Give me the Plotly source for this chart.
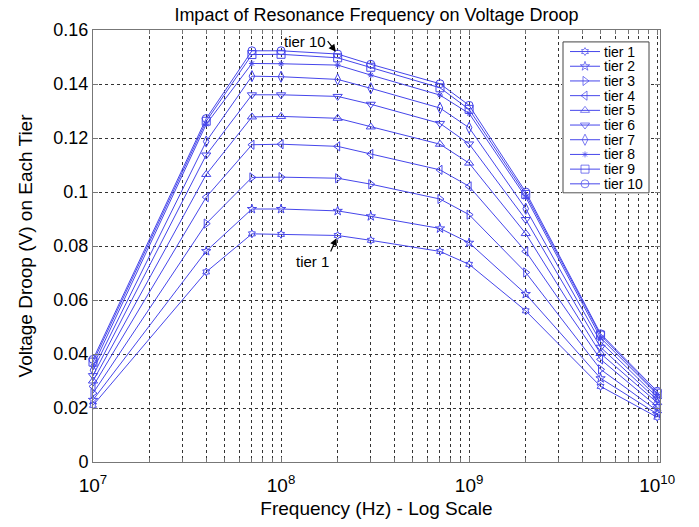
import math
import plotly.graph_objects as go

# ---- data ----
freq_hz = [1e7, 4e7, 7e7, 1e8, 2e8, 3e8, 7e8, 1e9, 2e9, 5e9, 1e10]

tier1 = [0.0210, 0.0704, 0.0845, 0.0843, 0.0839, 0.0821, 0.0780, 0.0732, 0.0560, 0.0280, 0.0166]
tier2 = [0.0230, 0.0781, 0.0937, 0.0937, 0.0930, 0.0910, 0.0865, 0.0812, 0.0622, 0.0310, 0.0178]
tier3 = [0.0255, 0.0883, 0.1054, 0.1055, 0.1051, 0.1029, 0.0974, 0.0916, 0.0702, 0.0343, 0.0190]
tier4 = [0.0280, 0.0981, 0.1175, 0.1177, 0.1169, 0.1141, 0.1082, 0.1021, 0.0780, 0.0380, 0.0205]
tier5 = [0.0300, 0.1065, 0.1278, 0.1280, 0.1273, 0.1241, 0.1177, 0.1107, 0.0846, 0.0402, 0.0220]
tier6 = [0.0320, 0.1137, 0.1360, 0.1360, 0.1354, 0.1325, 0.1254, 0.1178, 0.0898, 0.0425, 0.0230]
tier7 = [0.0340, 0.1187, 0.1429, 0.1427, 0.1417, 0.1384, 0.1311, 0.1238, 0.0938, 0.0445, 0.0240]
tier8 = [0.0355, 0.1251, 0.1476, 0.1475, 0.1470, 0.1433, 0.1359, 0.1291, 0.0981, 0.0460, 0.0250]
tier9 = [0.0370, 0.1262, 0.1509, 0.1510, 0.1497, 0.1462, 0.1386, 0.1306, 0.0991, 0.0470, 0.0255]
tier10 = [0.0380, 0.1272, 0.1523, 0.1523, 0.1511, 0.1473, 0.1401, 0.1321, 0.1000, 0.0475, 0.0262]

series = [tier1, tier2, tier3, tier4, tier5, tier6, tier7, tier8, tier9, tier10]
names = ["tier %d" % i for i in range(1, 11)]
symbols = ["hexagram-open", "star-open", "triangle-right-open", "triangle-left-open",
           "triangle-up-open", "triangle-down-open", "diamond-tall-open", "asterisk-open",
           "square-open", "circle-open"]
marker_sizes = [6, 7, 8, 8, 8, 8, 8, 5, 8, 8]

y_ticks = [0, 0.02, 0.04, 0.06, 0.08, 0.1, 0.12, 0.14, 0.16]
y_ticklabels = ["0", "0.02", "0.04", "0.06", "0.08", "0.1", "0.12", "0.14", "0.16"]

decades = [7, 8, 9, 10]

# ---- styling / layout constants ----
BLUE = "rgb(70,70,235)"
FONT = "Liberation Sans, Arial, sans-serif"
W, H = 699, 527
PL, PR, PT, PB = 93, 660, 30, 465          # plot area in pixels
PW, PH = PR - PL, PB - PT

def px_to_xpaper(px):
    return (px - PL) / PW

def px_to_ypaper(py):
    return (PB - py) / PH

fig = go.Figure()
for name, ys, sym, ms in zip(names, series, symbols, marker_sizes):
    fig.add_trace(go.Scatter(
        x=freq_hz, y=ys, name=name, mode="lines+markers", showlegend=False,
        line=dict(color=BLUE, width=1), cliponaxis=False,
        marker=dict(symbol=sym, size=ms, color=BLUE, line=dict(color=BLUE, width=1)),
        xaxis="x", yaxis="y",
    ))

# ---- MATLAB-style legend box on its own small axes ----
LG_L, LG_R, LG_T, LG_B = 563, 649, 42, 194   # box in pixels
LG_W, LG_H = LG_R - LG_L, LG_B - LG_T
ROW0, ROW_STEP = 9.7, 14.8
fig.add_trace(go.Scatter(
    x=[0, LG_W, LG_W, 0, 0], y=[0, 0, LG_H, LG_H, 0], mode="lines",
    fill="toself", fillcolor="white", line=dict(color="#444", width=1),
    showlegend=False, hoverinfo="skip", xaxis="x2", yaxis="y2",
))
for i, (name, sym, ms) in enumerate(zip(names, symbols, marker_sizes)):
    yy = LG_H - ROW0 - ROW_STEP * i
    fig.add_trace(go.Scatter(
        x=[7, 22, 37], y=[yy, yy, yy], mode="lines+markers", showlegend=False,
        line=dict(color=BLUE, width=1),
        marker=dict(symbol=sym, size=[0, ms, 0], color=BLUE, line=dict(color=BLUE, width=1)),
        hoverinfo="skip", xaxis="x2", yaxis="y2",
    ))
    fig.add_annotation(x=40, y=yy, xref="x2", yref="y2", text=name, showarrow=False,
                       xanchor="left", yanchor="middle", borderpad=0,
                       font=dict(size=14, color="black"))

x_major = [10 ** d for d in decades]
x_major_text = ["10<sup>%d</sup>" % d for d in decades]
x_minor = [m * 10 ** d for d in decades[:-1] for m in range(2, 10)]

GRID = dict(showgrid=True, gridcolor="#333", griddash="dot", gridwidth=1)

fig.update_layout(
    width=W, height=H,
    margin=dict(l=PL, r=W - PR, t=PT, b=H - PB),
    paper_bgcolor="white", plot_bgcolor="white",
    font=dict(family=FONT, size=18, color="black"),
    title=dict(text="Impact of Resonance Frequency on Voltage Droop",
               x=(PL + PR) / 2 / W, xanchor="center", y=1 - 15 / H, yanchor="middle",
               font=dict(size=18)),
    showlegend=False,
    xaxis=dict(
        type="log", range=[7, 10.015], domain=[0, 1],
        tickvals=x_major, ticktext=x_major_text,
        **GRID,
        minor=dict(tickvals=x_minor, ticks="inside", ticklen=4, tickcolor="#777",
                   showgrid=True, gridcolor="#333", griddash="dot", gridwidth=1),
        showline=True, linecolor="#777", linewidth=1, mirror="ticks",
        ticks="inside", ticklen=5, tickcolor="#777",
        zeroline=False, ticklabelstandoff=6,
        title=dict(text="Frequency (Hz) - Log Scale", font=dict(size=19), standoff=6),
        tickfont=dict(size=19),
    ),
    yaxis=dict(
        range=[0, 0.16], domain=[0, 1],
        tickvals=y_ticks, ticktext=y_ticklabels,
        **GRID,
        showline=True, linecolor="#777", linewidth=1, mirror="ticks",
        ticks="inside", ticklen=5, tickcolor="#777",
        zeroline=False,
        title=dict(text="Voltage Droop (V) on Each Tier", font=dict(size=19), standoff=15),
        tickfont=dict(size=18),
    ),
    xaxis2=dict(domain=[px_to_xpaper(LG_L - 1), px_to_xpaper(LG_R + 1)], range=[-1, LG_W + 1],
                anchor="y2", visible=False, fixedrange=True),
    yaxis2=dict(domain=[px_to_ypaper(LG_B + 1), px_to_ypaper(LG_T - 1)], range=[-1, LG_H + 1],
                anchor="x2", visible=False, fixedrange=True),
)

# annotations: labelled arrows pointing to tier 10 and tier 1 at 2e8
x_ann = math.log10(freq_hz[4])
fig.add_annotation(x=x_ann, y=tier10[4], xref="x", yref="y", text="tier 10",
                   showarrow=True, arrowhead=2, arrowsize=1.2, arrowwidth=1.2,
                   arrowcolor="black", ax=-10, ay=-13, standoff=3,
                   xanchor="right", yanchor="middle", font=dict(size=15))
fig.add_annotation(x=x_ann, y=tier1[4], xref="x", yref="y", text="tier 1",
                   showarrow=True, arrowhead=2, arrowsize=1.2, arrowwidth=1.2,
                   arrowcolor="black", ax=-7, ay=16, standoff=3,
                   xanchor="right", yanchor="top", font=dict(size=15))

fig.write_html("out.html")
